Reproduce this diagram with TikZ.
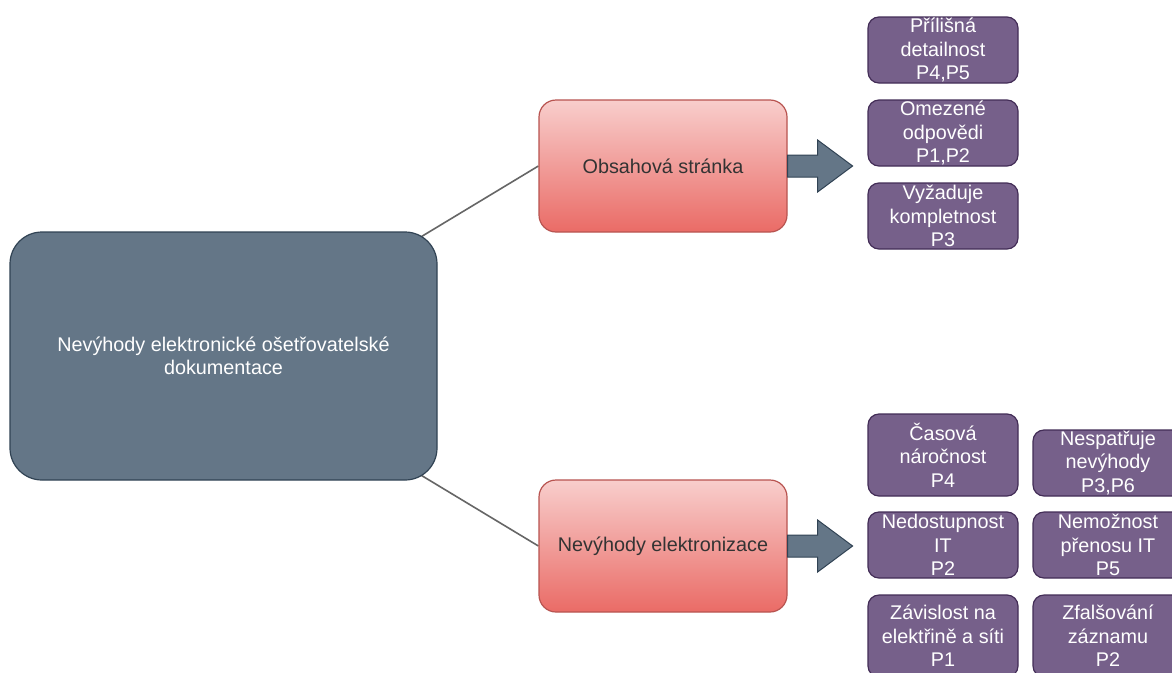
\documentclass[tikz,border=0pt]{standalone}
\usepackage{fontspec}
\setmainfont{Liberation Sans}
\usetikzlibrary{calc,backgrounds}
\definecolor{mainfill}{HTML}{647687}
\definecolor{mainline}{HTML}{314354}
\definecolor{redtop}{HTML}{F8CECC}
\definecolor{redbot}{HTML}{EA6B66}
\definecolor{redline}{HTML}{B85450}
\definecolor{purfill}{HTML}{76608A}
\definecolor{purline}{HTML}{432D57}
\definecolor{darktext}{HTML}{333333}
\definecolor{linkgray}{HTML}{666666}
\begin{document}
\begin{tikzpicture}[x=1pt,y=-1pt,
  basefont/.style={font=\fontsize{19.8pt}{23.6pt}\selectfont},
  mainbox/.style={basefont, draw=mainline, fill=mainfill, text=white, line width=1.2pt,
    rounded corners=32pt, minimum width=427pt, minimum height=248pt, align=center, inner sep=0pt},
  catbox/.style={basefont, draw=redline, top color=redtop, bottom color=redbot, text=darktext,
    line width=1.2pt, rounded corners=17pt, minimum width=248pt, minimum height=132pt, inner sep=0pt},
  itembox/.style={basefont, draw=purline, fill=purfill, text=white, line width=1.2pt,
    rounded corners=11pt, minimum width=150pt, minimum height=#1, align=center, inner xsep=0pt, inner ysep=-3pt},
  itembox/.default=66pt,
  linkline/.style={draw=linkgray, line width=1.6pt},
  blockarrow/.style={fill=mainfill, draw=mainline, line width=1pt, line join=miter}
]
\useasboundingbox (0,0) rectangle (1172,672);
\clip (0,0) rectangle (1172,672);

\node[mainbox] (main) at (223.5,356) {Nevýhody elektronické ošetřovatelské\\dokumentace};
\node[catbox] (obs) at (663,166) {Obsahová stránka};
\node[catbox] (nev) at (663,546) {Nevýhody elektronizace};

\begin{scope}[on background layer]
  \fill[white] (0,0) rectangle (1172,672);
  \draw[linkline] (main.center) -- (obs.west);
  \draw[linkline] (main.center) -- (nev.west);
\end{scope}

\path[blockarrow] ($(obs.east)+(0,-11)$) -- ++(30,0) -- ++(0,-15) -- ($(obs.east)+(65,0)$)
  -- ($(obs.east)+(30,26)$) -- ++(0,-15) -- ($(obs.east)+(0,11)$) -- cycle;
\path[blockarrow] ($(nev.east)+(0,-11)$) -- ++(30,0) -- ++(0,-15) -- ($(nev.east)+(65,0)$)
  -- ($(nev.east)+(30,26)$) -- ++(0,-15) -- ($(nev.east)+(0,11)$) -- cycle;

\node[itembox] (p1) at (943,50) {Přílišná\\detailnost\\P4,P5};
\node[itembox] (p2) at (943,133) {Omezené\\odpovědi\\P1,P2};
\node[itembox] (p3) at (943,216) {Vyžaduje\\kompletnost\\P3};

\node[itembox=82pt] (e1) at (943,455) {Časová\\náročnost\\P4};
\node[itembox] (e2) at (943,545) {Nedostupnost\\IT\\P2};
\node[itembox=82pt] (e3) at (943,636) {Závislost na\\elektřině a síti\\P1};
\node[itembox] (e4) at (1108,463) {Nespatřuje\\nevýhody\\P3,P6};
\node[itembox] (e5) at (1108,545) {Nemožnost\\přenosu IT\\P5};
\node[itembox=82pt] (e6) at (1108,636) {Zfalšování\\záznamu\\P2};
\end{tikzpicture}
\end{document}
